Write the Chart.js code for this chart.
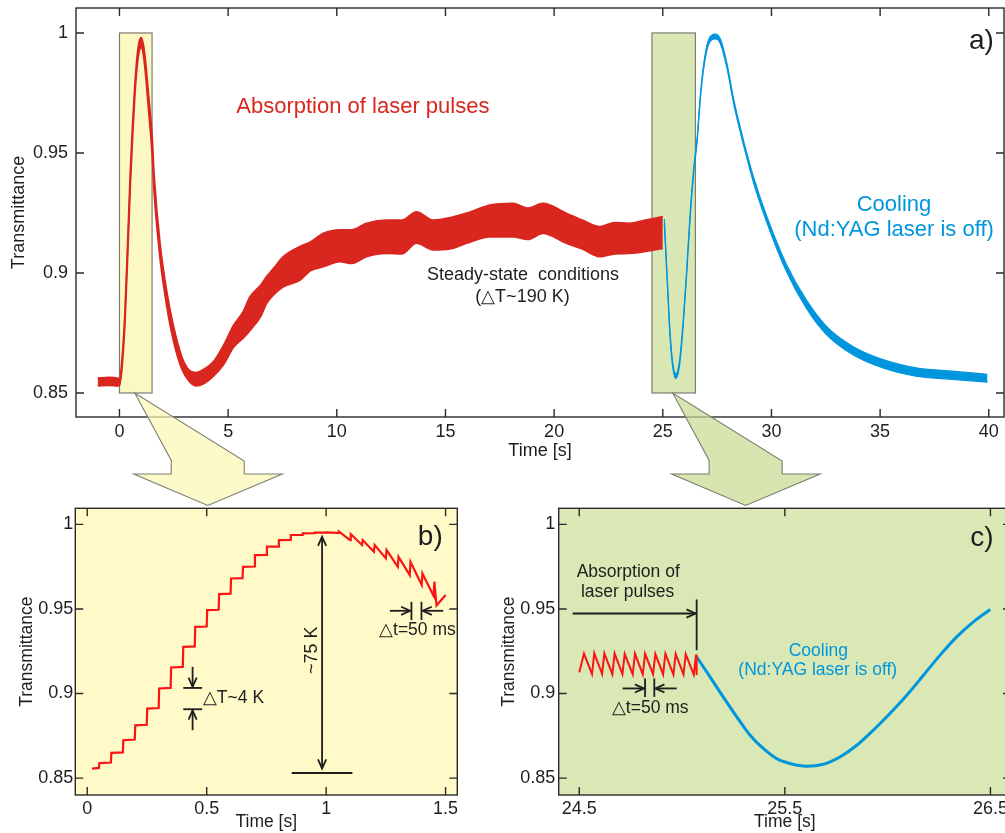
<!DOCTYPE html>
<html><head><meta charset="utf-8">
<script src="https://cdn.jsdelivr.net/npm/chart.js@4/dist/chart.umd.min.js"></script>
<style>
html,body{margin:0;padding:0;background:#fff;overflow:hidden;width:1005px;height:833px;position:relative;}
canvas{position:absolute;display:block;}
</style></head>
<body>
<canvas id="ca" width="1005" height="470" style="left:0;top:0"></canvas>
<canvas id="cb" width="470" height="343" style="left:0;top:490px"></canvas>
<canvas id="cc" width="540" height="343" style="left:490px;top:490px"></canvas>
<canvas id="ov" width="1005" height="833" style="left:0;top:0;pointer-events:none"></canvas>
<script>
// ---------------- data: panel a ----------------
const redTime = [-1.0,-0.5,-0.05,0.0,0.1,0.25,0.4,0.5,0.6,0.7,0.8,0.9,1.0,1.1,1.2,1.33,1.5,1.6,1.87,2.18,2.48,2.87,3.2,3.5,3.9,4.32,4.8,5.24,5.7,6.0,6.5,6.77,7.1,7.54,8.3,8.8,9.38,10.14,10.7,11.37,12.29,13.0,13.67,14.43,15.2,15.97,17.04,18.1,18.8,19.48,20.56,21.3,22.09,22.8,23.47,24.2,25.0];
const redLow  = [0.8530,0.8532,0.8530,0.8530,0.8590,0.8790,0.9130,0.9370,0.9560,0.9730,0.9850,0.9920,0.9940,0.9910,0.9830,0.9690,0.9500,0.9330,0.9060,0.8860,0.8720,0.8600,0.8550,0.8530,0.8540,0.8570,0.8620,0.8690,0.8730,0.8760,0.8820,0.8874,0.8910,0.8943,0.8970,0.9010,0.9026,0.9047,0.9040,0.9068,0.9082,0.9080,0.9124,0.9096,0.9100,0.9124,0.9151,0.9151,0.9140,0.9165,0.9124,0.9100,0.9068,0.9080,0.9082,0.9090,0.9103];
const redHigh = [0.8562,0.8565,0.8560,0.8555,0.8620,0.8830,0.9180,0.9420,0.9610,0.9770,0.9890,0.9960,0.9980,0.9950,0.9880,0.9750,0.9570,0.9400,0.9120,0.8920,0.8780,0.8650,0.8595,0.8585,0.8600,0.8630,0.8700,0.8780,0.8840,0.8900,0.8950,0.8985,0.9020,0.9068,0.9110,0.9130,0.9165,0.9180,0.9180,0.9207,0.9220,0.9220,0.9255,0.9220,0.9230,0.9249,0.9283,0.9290,0.9270,0.9290,0.9249,0.9220,0.9193,0.9210,0.9207,0.9220,0.9235];
const blueTime = [25.07,25.2,25.33,25.46,25.6,25.77,25.93,26.09,26.25,26.42,26.58,26.73,26.88,27.1,27.42,27.65,27.96,28.25,28.57,28.88,29.18,29.75,30.67,31.59,32.51,33.73,35.1,36.65,38.17,39.94];
const blueLow  = [0.9205,0.8970,0.8740,0.8605,0.8560,0.8615,0.8770,0.8980,0.9217,0.9414,0.9545,0.9725,0.9850,0.9950,0.9975,0.9955,0.9850,0.9710,0.9585,0.9475,0.9375,0.9220,0.9010,0.8855,0.8745,0.8660,0.8605,0.8570,0.8558,0.8545];
const blueHigh = [0.9225,0.8990,0.8760,0.8625,0.8580,0.8635,0.8790,0.9000,0.9237,0.9434,0.9565,0.9745,0.9870,0.9970,0.9995,0.9975,0.9870,0.9730,0.9605,0.9495,0.9398,0.9245,0.9040,0.8890,0.8780,0.8695,0.8640,0.8605,0.8592,0.8578];
const aXTicks = [0,5,10,15,20,25,30,35,40];
const aXLabels = ['0','5','10','15','20','25','30','35','40'];
const yTicks = [0.85,0.9,0.95,1];
const yLabels = ['0.85','0.9','0.95','1'];
const zoomB = [0, 1.5];
const zoomC = [24.5, 26.5];
const zoomY = [0.85, 1.0];

// ---------------- data: panel b ----------------
const bTime = [0.020,
 0.049,0.051, 0.099,0.101, 0.149,0.151, 0.199,0.201, 0.249,0.251,
 0.299,0.301, 0.349,0.351, 0.400,0.402, 0.450,0.452, 0.500,0.502,
 0.550,0.552, 0.600,0.602, 0.650,0.652, 0.700,0.702, 0.750,0.752,
 0.800,0.802, 0.850,0.852, 0.900,0.902, 0.950,0.952, 1.000,1.002,
 1.050,1.053, 1.100,1.103, 1.150,1.153, 1.200,1.203, 1.250,1.253,
 1.300,1.303, 1.350,1.353, 1.400,1.403, 1.450,1.453, 1.462,1.500];
const bValue = [0.8556,
 0.8560,0.8589, 0.8592,0.8649, 0.8652,0.8724, 0.8728,0.8812, 0.8815,0.8911,
 0.8914,0.9030, 0.9033,0.9154, 0.9157,0.9276, 0.9279,0.9394, 0.9396,0.9493,
 0.9495,0.9588, 0.9590,0.9680, 0.9682,0.9749, 0.9751,0.9818, 0.9819,0.9868,
 0.9869,0.9907, 0.9908,0.9937, 0.9938,0.9947, 0.9948,0.9951, 0.9951,0.9953,
 0.9950,0.9958, 0.9907,0.9943, 0.9878,0.9907, 0.9838,0.9878, 0.9799,0.9848,
 0.9749,0.9808, 0.9700,0.9779, 0.9641,0.9710, 0.9576,0.9661, 0.9520,0.9582];
const bXTicks = [0,0.5,1,1.5];
const bXLabels = ['0','0.5','1','1.5'];

// ---------------- data: panel c ----------------
const cRedTime = [24.500,24.523, 24.562,24.573, 24.611,24.622, 24.661,24.672, 24.710,24.721, 24.760,24.771,
 24.809,24.820, 24.859,24.870, 24.908,24.919, 24.958,24.969, 25.007,25.018, 25.057,25.068, 25.071];
const cRedValue = [0.9125,0.9236, 0.9115,0.9238, 0.9116,0.9237, 0.9114,0.9236, 0.9115,0.9235, 0.9114,0.9236,
 0.9113,0.9235, 0.9114,0.9234, 0.9113,0.9235, 0.9112,0.9234, 0.9113,0.9233, 0.9112,0.9230, 0.9110];
const cBlueTime = [25.071,25.136,25.200,25.266,25.331,25.395,25.460,25.525,25.606,25.687,25.768,25.850,25.930,26.011,26.093,26.174,26.255,26.336,26.417,26.499];
const cBlueValue = [0.9217,0.9098,0.8980,0.8862,0.8753,0.8675,0.8615,0.8586,0.8570,0.8582,0.8625,0.8694,0.8783,0.8882,0.8990,0.9108,0.9227,0.9335,0.9424,0.9497];
const cXTicks = [24.5,25.5,26.5];
const cXLabels = ['24.5','25.5','26.5'];

// ---------------- styling ----------------
const FONT = '"Liberation Sans", Arial, Helvetica, sans-serif';
const DARK = '#1e1e1e';
const RED_A = 'rgb(217,38,30)';
const RED_B = 'rgb(250,20,20)';
const BLUE = 'rgb(0,150,222)';
const YEL = '#fcf8c3';
const GRN = '#d8e7b3';
const EDGE = '#7d7d72';

const pts = (xs, ys) => xs.map((x, i) => ({x: x, y: ys[i]}));

function arrowLine(ctx, x1, y1, x2, y2, h1, h2) {
  ctx.beginPath(); ctx.moveTo(x1, y1); ctx.lineTo(x2, y2); ctx.stroke();
  const head = (xa, ya, xb, yb) => {
    const a = Math.atan2(yb - ya, xb - xa), L = 10, W = 0.42;
    ctx.beginPath();
    ctx.moveTo(xb - L * Math.cos(a - W), yb - L * Math.sin(a - W));
    ctx.lineTo(xb, yb);
    ctx.lineTo(xb - L * Math.cos(a + W), yb - L * Math.sin(a + W));
    ctx.stroke();
  };
  if (h2) head(x1, y1, x2, y2);
  if (h1) head(x2, y2, x1, y1);
}

const matlabBox = {
  id: 'mbox',
  beforeDraw(chart, args, o) {
    const {ctx, chartArea: c} = chart;
    if (o.bg) { ctx.save(); ctx.fillStyle = o.bg; ctx.fillRect(c.left, c.top, c.right - c.left, c.bottom - c.top); ctx.restore(); }
  },
  beforeDatasetsDraw(chart, args, o) {
    const {ctx, scales: {x, y}} = chart;
    (o.rects || []).forEach(r => {
      const x1 = x.getPixelForValue(r.x[0]), x2 = x.getPixelForValue(r.x[1]);
      const y1 = y.getPixelForValue(r.y[1]), y2 = y.getPixelForValue(r.y[0]);
      ctx.save(); ctx.fillStyle = r.fill; ctx.fillRect(x1, y1, x2 - x1, y2 - y1);
      ctx.strokeStyle = EDGE; ctx.lineWidth = 1.2; ctx.strokeRect(x1, y1, x2 - x1, y2 - y1); ctx.restore();
    });
  },
  afterDatasetsDraw(chart, args, o) {
    const {ctx, chartArea: c, scales: {x, y}} = chart;
    ctx.save();
    ctx.strokeStyle = '#2a2a2a'; ctx.lineWidth = 1.4;
    ctx.strokeRect(c.left, c.top, c.right - c.left, c.bottom - c.top);
    const L = o.tick || 8;
    ctx.beginPath();
    x.ticks.forEach(t => { const p = x.getPixelForValue(t.value);
      ctx.moveTo(p, c.bottom); ctx.lineTo(p, c.bottom - L); ctx.moveTo(p, c.top); ctx.lineTo(p, c.top + L); });
    y.ticks.forEach(t => { const p = y.getPixelForValue(t.value);
      ctx.moveTo(c.left, p); ctx.lineTo(c.left + L, p); ctx.moveTo(c.right, p); ctx.lineTo(c.right - L, p); });
    ctx.stroke();
    ctx.strokeStyle = DARK; ctx.lineWidth = 1.8;
    (o.lines || []).forEach(l => {
      arrowLine(ctx, x.getPixelForValue(l.x1), y.getPixelForValue(l.y1), x.getPixelForValue(l.x2), y.getPixelForValue(l.y2), l.h1, l.h2);
    });
    (o.texts || []).forEach(t => {
      ctx.save();
      ctx.translate(x.getPixelForValue(t.x), y.getPixelForValue(t.y));
      if (t.rot) ctx.rotate(t.rot * Math.PI / 180);
      ctx.font = t.size + 'px ' + FONT;
      ctx.fillStyle = t.color || DARK;
      ctx.textAlign = t.align || 'center';
      ctx.textBaseline = 'middle';
      ctx.fillText(t.text, 0, 0);
      ctx.restore();
    });
    ctx.restore();
  }
};

function noPad(s) { s.paddingTop = 0; s.paddingBottom = 0; s.paddingLeft = 0; s.paddingRight = 0; }
function xScale(min, max, ticks, labels, fs, pad, h, tfs, tpad) {
  return {type: 'linear', min: min, max: max,
    afterBuildTicks: s => { s.ticks = ticks.map(v => ({value: v})); },
    ticks: {autoSkip: false, maxRotation: 0, minRotation: 0, padding: pad, color: DARK,
      font: {family: FONT, size: fs}, callback: (v, i) => labels[i]},
    grid: {display: false, drawTicks: false}, border: {display: false},
    title: {display: true, text: 'Time [s]', color: DARK, font: {family: FONT, size: tfs}, padding: {top: 0, bottom: tpad}},
    afterFit: s => { s.height = h; noPad(s); }
  };
}
function yScale(min, max, fs, pad, w, tfs, tpad) {
  return {type: 'linear', min: min, max: max,
    afterBuildTicks: s => { s.ticks = yTicks.map(v => ({value: v})); },
    ticks: {autoSkip: false, padding: pad, color: DARK, font: {family: FONT, size: fs}, callback: (v, i) => yLabels[i]},
    grid: {display: false, drawTicks: false}, border: {display: false},
    title: {display: true, text: 'Transmittance', color: DARK, font: {family: FONT, size: tfs}, padding: {top: tpad, bottom: 0}},
    afterFit: s => { s.width = w; noPad(s); }
  };
}
const baseOpts = {responsive: false, animation: false, devicePixelRatio: 1, events: [],
  elements: {point: {radius: 0}}};

// ---------------- panel a ----------------
const chartA = new Chart(document.getElementById('ca'), {
  type: 'line',
  data: {datasets: [
    {data: pts(redTime, redLow), borderColor: RED_A, borderWidth: 1.8, fill: false, cubicInterpolationMode: 'monotone'},
    {data: pts(redTime, redHigh), borderColor: RED_A, borderWidth: 1.8, fill: '-1', backgroundColor: RED_A, cubicInterpolationMode: 'monotone'},
    {data: pts(blueTime, blueLow), borderColor: BLUE, borderWidth: 1.2, fill: false, cubicInterpolationMode: 'monotone'},
    {data: pts(blueTime, blueHigh), borderColor: BLUE, borderWidth: 1.2, fill: '-1', backgroundColor: BLUE, cubicInterpolationMode: 'monotone'}
  ]},
  options: Object.assign({}, baseOpts, {
    layout: {padding: {left: 0, top: 8, right: 1, bottom: 0}},
    scales: {
      x: xScale(-2, 40.7, aXTicks, aXLabels, 18, 4, 53, 18, 8),
      y: yScale(0.84, 1.0104, 18, 8, 76, 18, 8.5)
    },
    plugins: {legend: {display: false}, tooltip: {enabled: false},
      mbox: {tick: 8,
        rects: [{x: zoomB, y: zoomY, fill: YEL}, {x: zoomC, y: zoomY, fill: GRN}],
        texts: [
          {text: 'Absorption of laser pulses', x: 11.20, y: 0.969, size: 22, color: RED_A},
          {text: 'Steady-state  conditions', x: 18.57, y: 0.8992, size: 18},
          {text: '(\u25B3T~190 K)', x: 18.54, y: 0.8898, size: 18},
          {text: 'Cooling', x: 35.64, y: 0.9283, size: 22, color: BLUE},
          {text: '(Nd:YAG laser is off)', x: 35.64, y: 0.9179, size: 22, color: BLUE},
          {text: 'a)', x: 39.66, y: 0.9965, size: 28}
        ]}
    }
  }),
  plugins: [matlabBox]
});

// ---------------- panel b ----------------
const chartB = new Chart(document.getElementById('cb'), {
  type: 'line',
  data: {datasets: [
    {data: pts(bTime, bValue), borderColor: RED_B, borderWidth: 2.2, fill: false, tension: 0}
  ]},
  options: Object.assign({}, baseOpts, {
    layout: {padding: {left: 0, top: 18.3, right: 12.7, bottom: 0}},
    scales: {
      x: xScale(-0.05, 1.549, bXTicks, bXLabels, 18, 3, 38, 17.5, 0),
      y: yScale(0.84, 1.0095, 18, 2, 75.3, 17.5, 16.5)
    },
    plugins: {legend: {display: false}, tooltip: {enabled: false},
      mbox: {tick: 8, bg: '#fffac8',
        lines: [
          {x1: 0.983, y1: 0.8556, x2: 0.983, y2: 0.9927, h1: true, h2: true},
          {x1: 0.856, y1: 0.853, x2: 1.11, y2: 0.853},
          {x1: 0.402, y1: 0.9033, x2: 0.481, y2: 0.9033},
          {x1: 0.402, y1: 0.8907, x2: 0.481, y2: 0.8907},
          {x1: 0.441, y1: 0.9158, x2: 0.441, y2: 0.9040, h2: true},
          {x1: 0.441, y1: 0.8783, x2: 0.441, y2: 0.8900, h2: true},
          {x1: 1.357, y1: 0.9542, x2: 1.357, y2: 0.9434},
          {x1: 1.399, y1: 0.9542, x2: 1.399, y2: 0.9434},
          {x1: 1.267, y1: 0.9489, x2: 1.352, y2: 0.9489, h2: true},
          {x1: 1.490, y1: 0.9489, x2: 1.404, y2: 0.9489, h2: true}
        ],
        texts: [
          {text: '~75 K', x: 0.939, y: 0.9256, size: 18, rot: -90},
          {text: '\u25B3T~4 K', x: 0.484, y: 0.897, size: 17.5, align: 'left'},
          {text: '\u25B3t=50 ms', x: 1.382, y: 0.9375, size: 17.5},
          {text: 'b)', x: 1.436, y: 0.9922, size: 28}
        ]}
    }
  }),
  plugins: [matlabBox]
});

// ---------------- panel c ----------------
const chartC = new Chart(document.getElementById('cc'), {
  type: 'line',
  data: {datasets: [
    {data: pts(cRedTime, cRedValue), borderColor: RED_B, borderWidth: 2, fill: false, tension: 0},
    {data: pts(cBlueTime, cBlueValue), borderColor: BLUE, borderWidth: 3, fill: false, cubicInterpolationMode: 'monotone'}
  ]},
  options: Object.assign({}, baseOpts, {
    layout: {padding: {left: 0, top: 18.3, right: 19, bottom: 0}},
    scales: {
      x: xScale(24.4, 26.6, cXTicks, cXLabels, 18, 3, 38, 17.5, 0),
      y: yScale(0.84, 1.0095, 18, 3.5, 68.7, 17.5, 9)
    },
    plugins: {legend: {display: false}, tooltip: {enabled: false},
      mbox: {tick: 8, bg: '#d9e8b4',
        lines: [
          {x1: 24.468, y1: 0.9473, x2: 25.066, y2: 0.9473, h2: true},
          {x1: 25.071, y1: 0.9556, x2: 25.071, y2: 0.9256},
          {x1: 24.820, y1: 0.9089, x2: 24.820, y2: 0.8980},
          {x1: 24.865, y1: 0.9089, x2: 24.865, y2: 0.8980},
          {x1: 24.711, y1: 0.903, x2: 24.815, y2: 0.903, h2: true},
          {x1: 24.974, y1: 0.903, x2: 24.870, y2: 0.903, h2: true}
        ],
        texts: [
          {text: 'Absorption of', x: 24.738, y: 0.972, size: 17.5},
          {text: 'laser pulses', x: 24.735, y: 0.9601, size: 17.5},
          {text: '\u25B3t=50 ms', x: 24.845, y: 0.8911, size: 17.5},
          {text: 'Cooling', x: 25.663, y: 0.9252, size: 17.5, color: BLUE},
          {text: '(Nd:YAG laser is off)', x: 25.66, y: 0.9138, size: 17.5, color: BLUE},
          {text: 'c)', x: 26.458, y: 0.9917, size: 28}
        ]}
    }
  }),
  plugins: [matlabBox]
});

// ---------------- callout arrows (overlay) ----------------
(function () {
  const ov = document.getElementById('ov').getContext('2d');
  const shape = [[0,0],[36.5,67.5],[36.5,81],[-1,81],[73,112.5],[147.5,81],[109.5,81],[109.5,68]];
  function callout(range, fill) {
    const sx = chartA.scales.x, sy = chartA.scales.y;
    const vx = sx.getPixelForValue((range[0] + range[1]) / 2) - 1;
    const vy = sy.getPixelForValue(zoomY[0]);
    ov.beginPath();
    shape.forEach((p, i) => { const X = vx + p[0], Y = vy + p[1]; if (i) ov.lineTo(X, Y); else ov.moveTo(X, Y); });
    ov.closePath();
    ov.fillStyle = fill; ov.fill();
    ov.strokeStyle = EDGE; ov.lineWidth = 1.1; ov.stroke();
  }
  callout(zoomB, 'rgba(252,248,180,0.72)');
  callout(zoomC, 'rgba(200,221,146,0.72)');
})();
</script>
</body></html>
